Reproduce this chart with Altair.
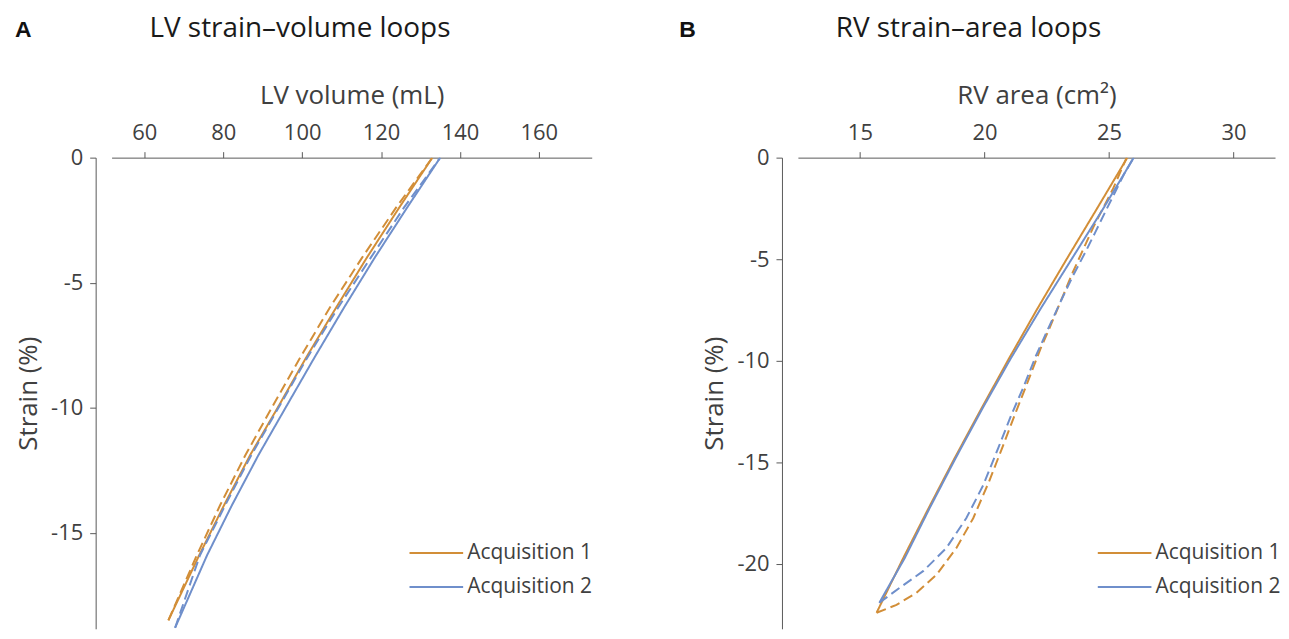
import altair as alt
import pandas as pd

ORANGE = "#D28E38"
BLUE = "#6F8FCB"
TXT = "#404040"
AX = "#595959"
FONT = "Open Sans"

acq_names = ["Acquisition 1", "Acquisition 2"]

# ---- LV strain-volume loops (volume mL, strain %) ----
lv_a1_sys_vol = [133.0, 124.6, 116.4, 108.6, 101.0, 93.8, 86.8, 80.2, 73.9, 66.1]
lv_a1_sys_strain = [0.0, -2.0, -4.0, -6.0, -8.0, -10.0, -11.9, -13.9, -15.9, -18.5]
lv_a1_dia_vol = [66.1, 73.3, 79.2, 85.6, 92.3, 99.5, 107.0, 115.2, 123.8, 133.0]
lv_a1_dia_strain = [-18.5, -15.9, -13.9, -11.9, -10.0, -8.0, -6.0, -4.0, -2.0, 0.0]
lv_a2_sys_vol = [135.0, 126.6, 118.4, 110.6, 103.1, 95.8, 88.9, 82.2, 75.9, 67.8]
lv_a2_sys_strain = [0.0, -2.0, -4.0, -6.0, -8.0, -10.0, -11.9, -13.9, -15.9, -18.8]
lv_a2_dia_vol = [67.8, 74.1, 80.5, 87.1, 94.0, 101.3, 109.1, 117.4, 125.8, 135.0]
lv_a2_dia_strain = [-18.8, -15.9, -13.9, -11.9, -10.0, -8.0, -6.0, -4.0, -2.0, 0.0]

# ---- RV strain-area loops (area cm², strain %) ----
rv_a1_sys_area = [25.74, 24.50, 23.30, 22.12, 20.98, 19.88, 18.80, 17.76, 16.74, 15.67]
rv_a1_sys_strain = [0.0, -2.55, -5.00, -7.45, -9.90, -12.35, -14.80, -17.25, -19.71, -22.40]
rv_a2_sys_area = [26.00, 24.75, 23.50, 22.25, 21.05, 19.92, 18.84, 17.80, 16.80, 15.78]
rv_a2_sys_strain = [0.0, -2.55, -5.00, -7.45, -9.90, -12.35, -14.80, -17.25, -19.71, -21.91]
rv_a1_dia_area = [15.67, 16.47, 17.27, 18.07, 18.87, 19.55, 20.19, 20.75, 21.27, 21.79, 22.25,
                  22.60, 23.10, 23.55, 23.97, 24.37, 24.80, 25.15, 25.71]
rv_a1_dia_strain = [-22.40, -22.01, -21.42, -20.54, -19.22, -17.75, -15.93, -14.17, -12.50, -10.88, -9.41,
                    -8.43, -6.96, -5.64, -4.51, -3.43, -2.40, -1.57, 0.0]
rv_a2_dia_area = [15.78, 16.59, 17.55, 18.47, 19.27, 19.95, 20.55, 21.07, 21.59, 22.07, 22.50,
                  23.05, 23.55, 24.05, 24.45, 24.90, 25.30, 25.60, 25.99]
rv_a2_dia_strain = [-21.91, -21.18, -20.34, -19.22, -17.75, -16.13, -14.31, -12.70, -11.23, -9.75, -8.58,
                    -7.11, -5.83, -4.66, -3.68, -2.55, -1.57, -0.83, 0.0]

lv_xticks = [60, 80, 100, 120, 140, 160]
lv_yticks = [0, -5, -10, -15]
rv_xticks = [15, 20, 25, 30]
rv_yticks = [0, -5, -10, -15, -20]


def build(series):
    rows = []
    for acq, phase, xs, ys in series:
        for i, (xv, yv) in enumerate(zip(xs, ys)):
            rows.append({"x": xv, "y": yv, "acq": acq, "phase": phase, "i": i})
    return pd.DataFrame(rows)


lv_df = build([
    (acq_names[0], "sys", lv_a1_sys_vol, lv_a1_sys_strain),
    (acq_names[0], "dia", lv_a1_dia_vol, lv_a1_dia_strain),
    (acq_names[1], "sys", lv_a2_sys_vol, lv_a2_sys_strain),
    (acq_names[1], "dia", lv_a2_dia_vol, lv_a2_dia_strain),
])
rv_df = build([
    (acq_names[0], "sys", rv_a1_sys_area, rv_a1_sys_strain),
    (acq_names[0], "dia", rv_a1_dia_area, rv_a1_dia_strain),
    (acq_names[1], "sys", rv_a2_sys_area, rv_a2_sys_strain),
    (acq_names[1], "dia", rv_a2_dia_area, rv_a2_dia_strain),
])


def panel(df, xdom, xticks, xtitle, ydom, yticks, w, h, title, letter, letter_dx, title_dx, leg_x):
    legend = alt.Legend(
        title=None, orient="none", legendX=leg_x, legendY=385,
        symbolType="stroke", symbolSize=2900, symbolStrokeWidth=2,
        clipHeight=24, rowPadding=10, labelOffset=3, padding=0,
        labelFont=FONT, labelFontSize=21, labelColor=TXT,
    )
    lines = alt.Chart(df).mark_line(strokeWidth=2, clip=True).encode(
        x=alt.X("x:Q", scale=alt.Scale(domain=xdom, nice=False, zero=False),
                axis=alt.Axis(orient="top", values=xticks, title=xtitle, grid=False,
                              labelExpr="'' + datum.value", labelFont=FONT, labelFontSize=22,
                              labelColor=TXT, labelPadding=7, tickSize=6, tickColor=AX,
                              domainColor=AX, titleFont=FONT, titleFontSize=26,
                              titleFontWeight="normal", titleColor=TXT, titlePadding=13)),
        y=alt.Y("y:Q", scale=alt.Scale(domain=ydom, nice=False, zero=False),
                axis=alt.Axis(values=yticks, title="Strain (%)", grid=False, offset=16,
                              labelExpr="'' + datum.value", labelFont=FONT, labelFontSize=22,
                              labelColor=TXT, labelPadding=7, tickSize=6, tickColor=AX,
                              domainColor=AX, titleFont=FONT, titleFontSize=26,
                              titleFontWeight="normal", titleColor=TXT, titlePadding=9)),
        color=alt.Color("acq:N", scale=alt.Scale(domain=acq_names, range=[ORANGE, BLUE]), legend=legend),
        strokeDash=alt.StrokeDash("phase:N", scale=alt.Scale(domain=["sys", "dia"], range=[[1, 0], [10, 5]]),
                                  legend=None),
        order=alt.Order("i:Q"),
    )
    lab = alt.Chart(pd.DataFrame({"t": [letter]})).mark_text(
        font="Liberation Sans", fontWeight="bold", fontSize=23, align="left", baseline="middle", color="#111"
    ).encode(text="t:N", x=alt.value(letter_dx), y=alt.value(-128))
    ttl = alt.Chart(pd.DataFrame({"t": [title]})).mark_text(
        font=FONT, fontSize=28, align="left", baseline="middle", color="#1a1a1a"
    ).encode(text="t:N", x=alt.value(title_dx), y=alt.value(-129))
    return alt.layer(lines, lab, ttl).properties(width=w, height=h)


left = panel(lv_df, [51.7, 173.4], lv_xticks, "LV volume (mL)", [-18.84, 0], lv_yticks,
             482, 473, "LV strain\u2013volume loops", "A", -97, 38, 298)
right = panel(rv_df, [12.51, 31.67], rv_xticks, "RV area (cm\u00b2)", [-23.19, 0], rv_yticks,
              479, 473, "RV strain\u2013area loops", "B", -119, 38, 300)

chart = alt.hconcat(left, right, spacing=207, bounds="flush").resolve_scale(
    color="independent", strokeDash="independent", x="independent", y="independent"
).resolve_legend(color="independent").properties(
    padding={"left": 7, "top": 6, "right": 0, "bottom": 0}
).configure_view(stroke=None)

chart.save("out.html", embed_options={"renderer": "svg", "actions": False})
